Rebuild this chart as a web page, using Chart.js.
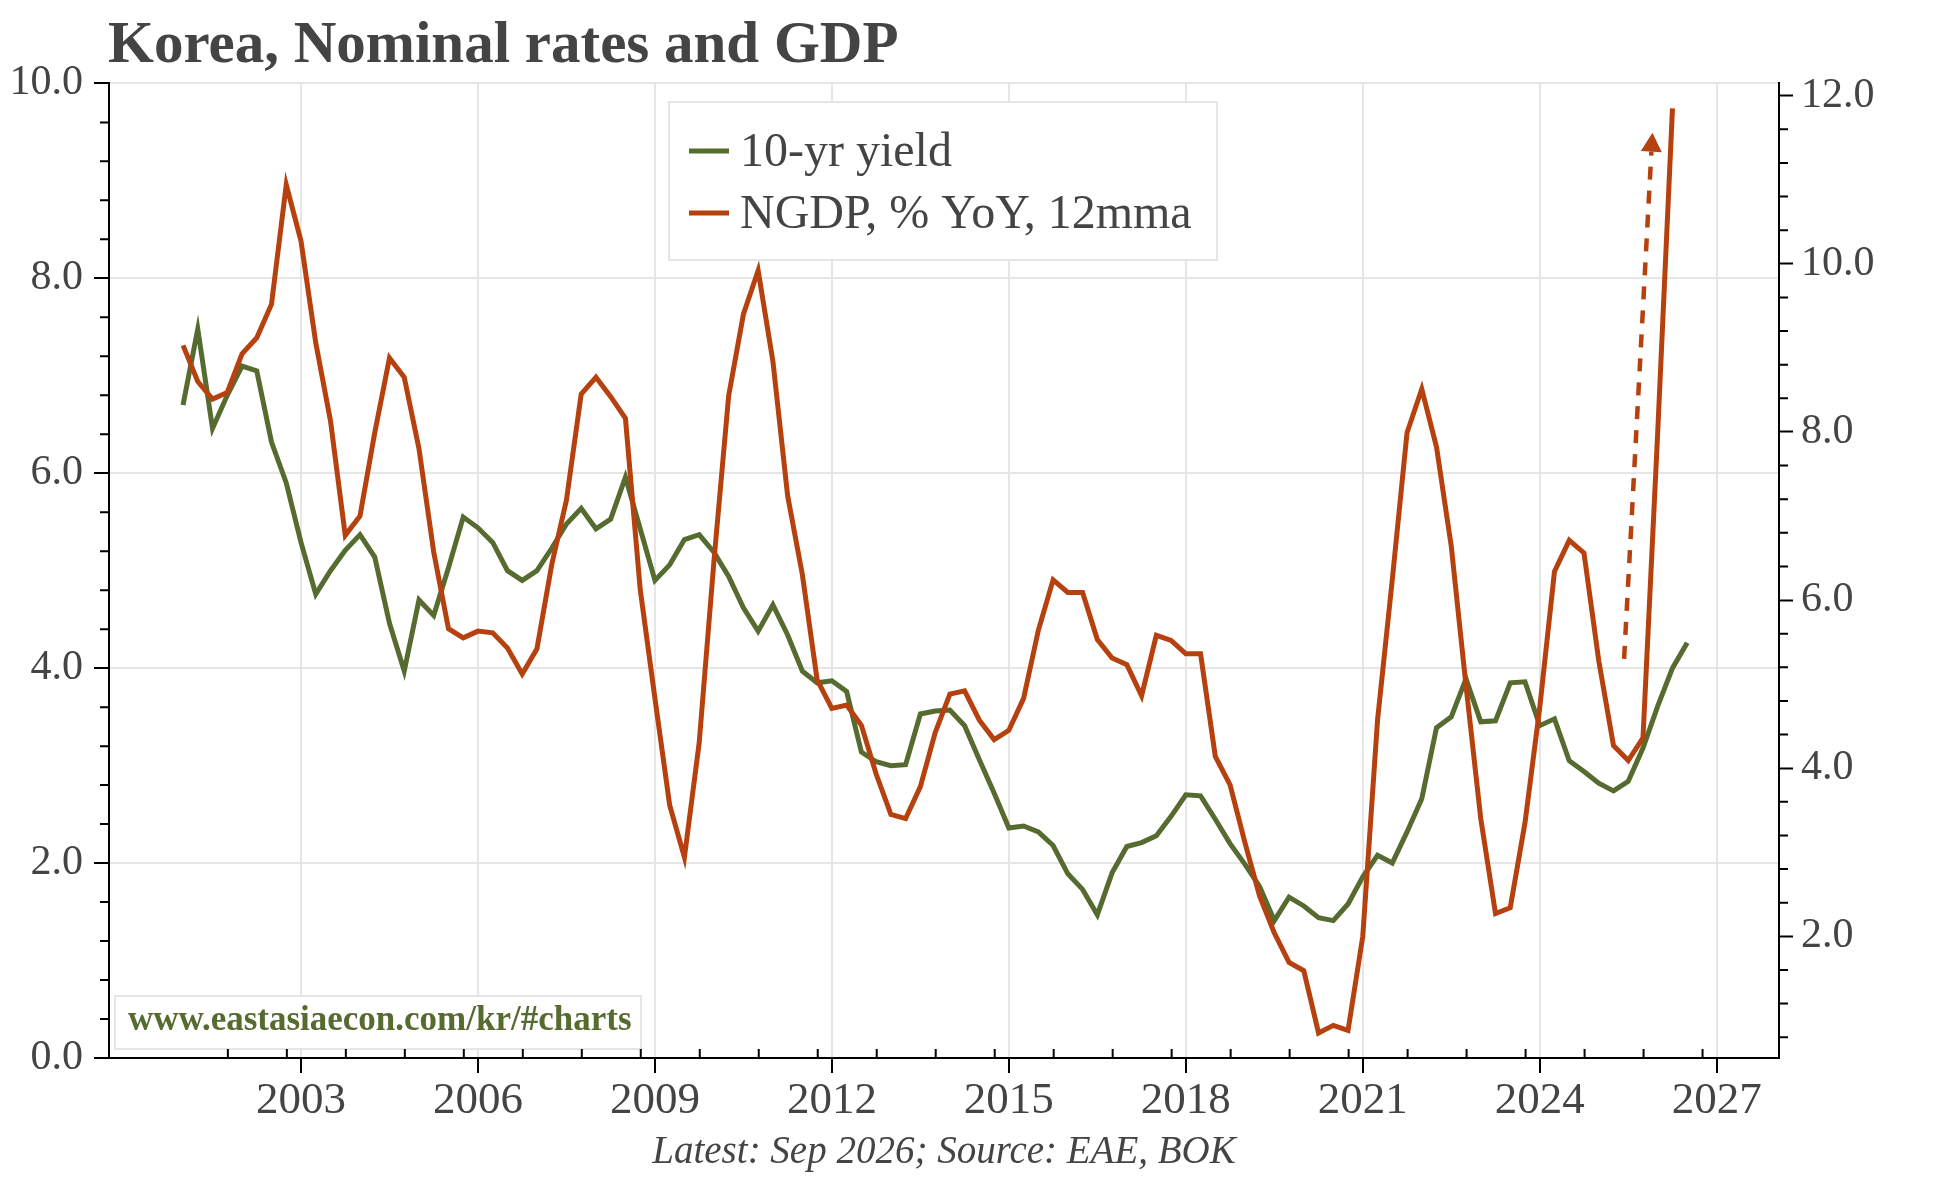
<!DOCTYPE html>
<html>
<head>
<meta charset="utf-8">
<title>Korea, Nominal rates and GDP</title>
<script src="https://cdn.jsdelivr.net/npm/chart.js@4.4.1/dist/chart.umd.min.js"></script>
<style>
  html, body { margin: 0; padding: 0; background: #fff; }
  #wrap { width: 1944px; height: 1178px; }
</style>
</head>
<body>
<div id="wrap"><canvas id="chart" width="1944" height="1178"></canvas></div>
<script>
// quarterly data, first observation sits at 2001.0 on the axis
const firstQuarter = 2001.0;

// 10-yr yield, % (left axis)
const yield10 = [
  6.70, 7.48, 6.46, 6.80, 7.10, 7.05, 6.32, 5.90, 5.29, 4.76,
  5.00, 5.21, 5.37, 5.14, 4.46, 3.97, 4.70, 4.54, 5.03, 5.55,
  5.44, 5.29, 5.00, 4.90, 5.00, 5.23, 5.48, 5.64, 5.43, 5.53,
  5.96, 5.43, 4.90, 5.06, 5.32, 5.37, 5.19, 4.94, 4.62, 4.38,
  4.65, 4.34, 3.97, 3.85, 3.87, 3.76, 3.14, 3.04, 3.00, 3.01,
  3.53, 3.56, 3.57, 3.41, 3.06, 2.72, 2.36, 2.38, 2.32, 2.18,
  1.89, 1.73, 1.47, 1.90, 2.17, 2.21, 2.28, 2.48, 2.70, 2.69,
  2.45, 2.20, 1.99, 1.76, 1.41, 1.65, 1.56, 1.44, 1.41, 1.58,
  1.86, 2.08, 2.00, 2.32, 2.66, 3.39, 3.50, 3.89, 3.45, 3.46,
  3.85, 3.86, 3.41, 3.48, 3.05, 2.94, 2.82, 2.74, 2.84, 3.18,
  3.61, 4.00, 4.26
];

// NGDP, % YoY, 12mma (right axis)
const ngdp = [
  9.03, 8.60, 8.39, 8.47, 8.93, 9.12, 9.52, 10.94, 10.27, 9.06,
  8.13, 6.77, 7.00, 7.99, 8.88, 8.65, 7.80, 6.57, 5.66, 5.55,
  5.63, 5.61, 5.43, 5.12, 5.42, 6.42, 7.19, 8.45, 8.65, 8.42,
  8.16, 6.13, 4.83, 3.56, 2.94, 4.30, 6.46, 8.43, 9.40, 9.92,
  8.84, 7.24, 6.30, 5.05, 4.71, 4.75, 4.51, 3.93, 3.45, 3.40,
  3.78, 4.42, 4.88, 4.92, 4.57, 4.34, 4.45, 4.83, 5.64, 6.24,
  6.09, 6.09, 5.53, 5.31, 5.23, 4.86, 5.58, 5.52, 5.36, 5.36,
  4.14, 3.80, 3.12, 2.48, 2.04, 1.69, 1.59, 0.85, 0.94, 0.88,
  2.00, 4.57, 6.24, 7.99, 8.51, 7.82, 6.64, 4.98, 3.40, 2.27,
  2.34, 3.35, 4.72, 6.34, 6.71, 6.56, 5.28, 4.27, 4.09, 4.36,
  8.00, 11.85
];

const xTicks = [2003, 2006, 2009, 2012, 2015, 2018, 2021, 2024, 2027];
const leftTicks = [0, 2, 4, 6, 8, 10];
const rightTicks = [2, 4, 6, 8, 10, 12];

// dashed arrow: [year, NGDP value]
const arrowFrom = [2025.43, 5.30];
const arrowTo = [2025.91, 11.56];

const GREEN = '#566b2f';
const RED = '#b6410f';
const TEXT = '#444444';
const FONT = "'Liberation Serif', 'DejaVu Serif', serif";

const quarters = yield10.map((_, i) => firstQuarter + i * 0.25);
const toPoints = arr => arr.map((v, i) => ({ x: quarters[i], y: v }));

function box(ctx, x, y, w, h) {
    ctx.fillStyle = '#fff';
    ctx.fillRect(x, y, w, h);
    ctx.strokeStyle = '#e6e6e6';
    ctx.lineWidth = 2;
    ctx.strokeRect(x, y, w, h);
}

const decor = {
    id: 'decor',
    afterDraw(chart) {
        const { ctx, chartArea: a, scales: { x, y, y2 } } = chart;
        ctx.save();

        // title + footer
        ctx.fillStyle = TEXT;
        ctx.textBaseline = 'alphabetic';
        ctx.font = 'bold 59px ' + FONT;
        ctx.fillText('Korea, Nominal rates and GDP', 108, 62);
        ctx.font = 'italic 39px ' + FONT;
        ctx.textAlign = 'center';
        ctx.fillText('Latest: Sep 2026; Source: EAE, BOK', (a.left + a.right) / 2, 1163);
        ctx.textAlign = 'left';

        // watermark
        box(ctx, 115, 996, 526, 53);
        ctx.fillStyle = GREEN;
        ctx.font = 'bold 35px ' + FONT;
        ctx.fillText('www.eastasiaecon.com/kr/#charts', 128, 1030);

        // legend
        box(ctx, 669, 102, 548, 158);
        chart.data.datasets.forEach((ds, i) => {
            const ly = 151 + i * 62;
            ctx.strokeStyle = ds.borderColor;
            ctx.lineWidth = 5;
            ctx.beginPath();
            ctx.moveTo(689, ly);
            ctx.lineTo(729, ly);
            ctx.stroke();
            ctx.fillStyle = TEXT;
            ctx.font = '48px ' + FONT;
            ctx.fillText(ds.label, 740, ly + 15);
        });

        // minor ticks
        ctx.strokeStyle = '#000';
        ctx.lineWidth = 2;
        ctx.beginPath();
        for (let yr = 2001.76; yr < 2027; yr += 1) {
            const px = x.getPixelForValue(yr);
            ctx.moveTo(px, a.bottom);
            ctx.lineTo(px, a.bottom - 9);
        }
        for (let i = 1; i < 25; i++) {
            if (i % 5 === 0) continue;
            const py = y.getPixelForValue(i * 0.4);
            ctx.moveTo(a.left, py);
            ctx.lineTo(a.left - 9, py);
        }
        for (let i = 2; i < 30; i++) {
            if (i % 5 === 0) continue;
            const py = y2.getPixelForValue(i * 0.4);
            ctx.moveTo(a.right, py);
            ctx.lineTo(a.right + 9, py);
        }
        ctx.stroke();

        // dashed arrow
        const x0 = x.getPixelForValue(arrowFrom[0]), y0 = y2.getPixelForValue(arrowFrom[1]);
        const x1 = x.getPixelForValue(arrowTo[0]), y1 = y2.getPixelForValue(arrowTo[1]);
        const ang = Math.atan2(y1 - y0, x1 - x0);
        const headLen = 19, headW = 21;
        const bx = x1 - headLen * Math.cos(ang), by = y1 - headLen * Math.sin(ang);
        ctx.strokeStyle = RED;
        ctx.fillStyle = RED;
        ctx.lineWidth = 4.5;
        ctx.setLineDash([13, 11]);
        ctx.beginPath();
        ctx.moveTo(x0, y0);
        ctx.lineTo(bx, by);
        ctx.stroke();
        ctx.setLineDash([]);
        ctx.beginPath();
        ctx.moveTo(x1, y1);
        ctx.lineTo(bx - headW / 2 * Math.sin(ang), by + headW / 2 * Math.cos(ang));
        ctx.lineTo(bx + headW / 2 * Math.sin(ang), by - headW / 2 * Math.cos(ang));
        ctx.closePath();
        ctx.fill();

        ctx.restore();
    }
};

const tickFont = { family: FONT, size: 42 };

new Chart(document.getElementById('chart'), {
    type: 'line',
    data: {
        datasets: [
            { label: '10-yr yield', data: toPoints(yield10), yAxisID: 'y',
              borderColor: GREEN, borderWidth: 5, pointRadius: 0, tension: 0, order: 1 },
            { label: 'NGDP, % YoY, 12mma', data: toPoints(ngdp), yAxisID: 'y2',
              borderColor: RED, borderWidth: 5, pointRadius: 0, tension: 0, order: 0 }
        ]
    },
    options: {
        responsive: false,
        animation: false,
        devicePixelRatio: 1,
        layout: { padding: { top: 83.4, left: 0, right: 0, bottom: 0 } },
        plugins: { legend: { display: false }, tooltip: { enabled: false }, title: { display: false } },
        scales: {
            x: {
                type: 'linear', min: 1999.745, max: 2028.056,
                afterBuildTicks: s => { s.ticks = xTicks.map(v => ({ value: v })); },
                afterFit: s => { s.height = 120; },
                grid: { color: '#e6e6e6', lineWidth: 2, tickLength: 15, tickColor: '#000', tickWidth: 2 },
                border: { color: '#000', width: 2 },
                ticks: { font: { family: FONT, size: 45 }, color: TEXT, padding: 1, maxRotation: 0,
                         autoSkip: false, callback: v => String(v) }
            },
            y: {
                position: 'left', min: 0, max: 10,
                afterBuildTicks: s => { s.ticks = leftTicks.map(v => ({ value: v })); },
                afterFit: s => { s.width = 109; },
                grid: { color: '#e6e6e6', lineWidth: 2, tickLength: 15, tickColor: '#000', tickWidth: 2 },
                border: { color: '#000', width: 2 },
                ticks: { font: tickFont, color: TEXT, padding: 11, callback: v => v.toFixed(1) }
            },
            y2: {
                position: 'right', min: 0.552, max: 12.146,
                afterBuildTicks: s => { s.ticks = rightTicks.map(v => ({ value: v })); },
                afterFit: s => { s.width = 165; },
                grid: { drawOnChartArea: false, tickLength: 14, tickColor: '#000', tickWidth: 2 },
                border: { color: '#000', width: 2 },
                ticks: { font: tickFont, color: TEXT, padding: 8, callback: v => v.toFixed(1) }
            }
        }
    },
    plugins: [decor]
});
</script>
</body>
</html>
